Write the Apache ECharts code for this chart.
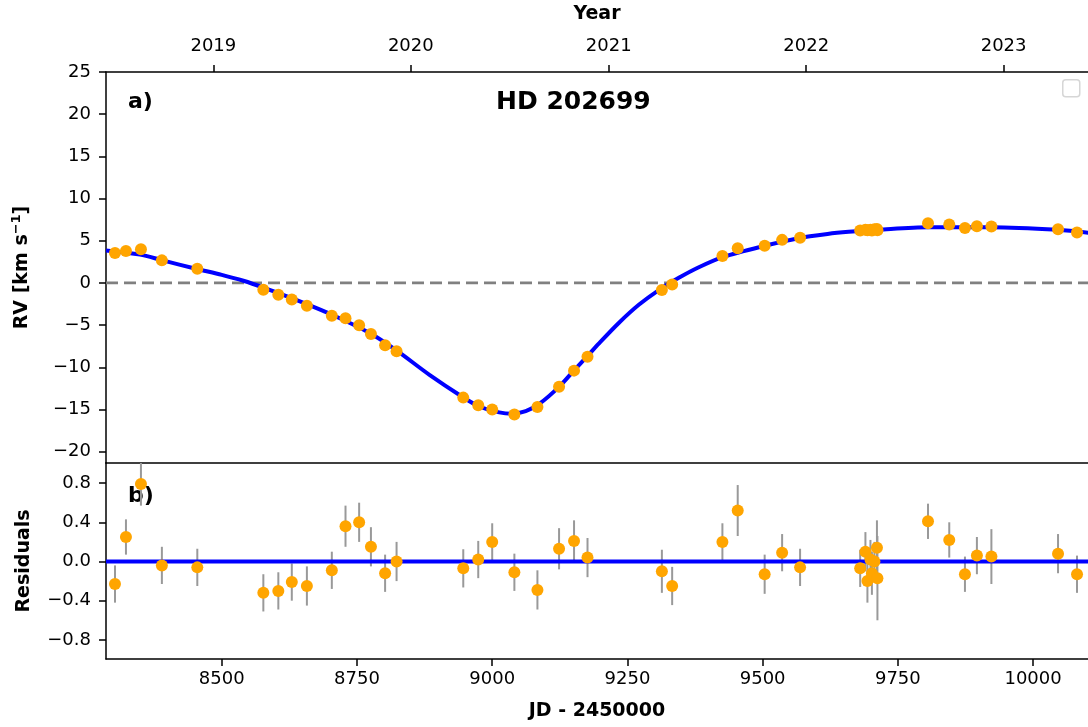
<!DOCTYPE html>
<html><head><meta charset="utf-8">
<script src="https://cdn.jsdelivr.net/npm/echarts@6/dist/echarts.min.js"></script>
<style>html,body{margin:0;padding:0;background:#fff}#c{width:1088px;height:727px}</style>
</head><body><div id="c"></div>
<script>
// ---- data (JD - 2450000) ----
const jd = [8302.6, 8322.9, 8350.6, 8389.3, 8454.8, 8576.9, 8604.6, 8629.5, 8657.4, 8703.5, 8728.8, 8754.0, 8775.8, 8802.0, 8823.2,
  8946.5, 8974.2, 9000.0, 9041.0, 9083.6, 9123.6, 9151.3, 9176.2,
  9313.7, 9332.7, 9425.6, 9453.9, 9503.7, 9536.0, 9569.2,
  9680.3, 9690.0, 9693.7, 9699.3, 9702.0, 9706.6, 9711.3, 9712.2,
  9805.7, 9845.0, 9874.0, 9896.1, 9922.9, 10046.1, 10081.2];
const rv = [3.53, 3.77, 4.00, 2.67, 1.69, -0.82, -1.41, -1.96, -2.71, -3.89, -4.20, -5.03, -6.05, -7.38, -8.09,
  -13.6, -14.5, -15.0, -15.6, -14.7, -12.3, -10.4, -8.75,
  -0.85, -0.18, 3.18, 4.12, 4.40, 5.10, 5.34,
  6.20, 6.30, 6.25, 6.30, 6.20, 6.35, 6.40, 6.25,
  7.07, 6.91, 6.51, 6.71, 6.68, 6.36, 5.97];
const res = [-0.23, 0.25, 0.79, -0.04, -0.06, -0.32, -0.30, -0.21, -0.25, -0.09, 0.36, 0.40, 0.15, -0.12, 0.00,
  -0.07, 0.02, 0.20, -0.11, -0.29, 0.13, 0.21, 0.04,
  -0.10, -0.25, 0.20, 0.52, -0.13, 0.09, -0.06,
  -0.07, 0.10, -0.20, 0.02, -0.12, 0.00, 0.14, -0.17,
  0.41, 0.22, -0.13, 0.06, 0.05, 0.08, -0.13];
const err = [0.19, 0.18, 0.22, 0.19, 0.19, 0.19, 0.19, 0.19, 0.20, 0.19, 0.21, 0.20, 0.20, 0.19, 0.20,
  0.195, 0.19, 0.19, 0.19, 0.20, 0.21, 0.21, 0.20,
  0.22, 0.195, 0.19, 0.26, 0.20, 0.19, 0.19,
  0.19, 0.20, 0.22, 0.20, 0.22, 0.20, 0.28, 0.43,
  0.18, 0.18, 0.18, 0.19, 0.28, 0.20, 0.19];
const modelJD = [8286, 8349, 8389, 8454, 8500, 8540, 8577, 8629, 8703, 8775, 8823, 8884, 8946, 8976, 9013, 9037, 9062, 9087,
  9124, 9151, 9175, 9197, 9234, 9271, 9308, 9345, 9382, 9426, 9504, 9566, 9620, 9659, 9714, 9806, 9923, 10046, 10102];
const modelRV = [3.85, 3.35, 2.7, 1.65, 0.95, 0.25, -0.55, -1.8, -3.75, -6.0, -8.0, -10.9, -13.55, -14.65, -15.35, -15.5, -15.2, -14.35,
  -12.3, -10.4, -8.75, -7.2, -4.75, -2.6, -0.85, 0.6, 1.85, 3.05, 4.4, 5.3, 5.8, 6.05, 6.3, 6.6, 6.6, 6.3, 5.95];
const jdTicks = [8500, 8750, 9000, 9250, 9500, 9750, 10000];
const yearTickJD = [8484.5, 8849.5, 9215.5, 9580.5, 9945.5];
const yearLabels = ['2019', '2020', '2021', '2022', '2023'];
const rvTicks = [-20, -15, -10, -5, 0, 5, 10, 15, 20, 25];
const resTicks = [-0.8, -0.4, 0.0, 0.4, 0.8];

// ---- chart ----
const XMIN = 8286, XMAX = 10101.5;
const FONT = 'DejaVu Sans';
const minus = s => String(s).replace('-', '\u2212');
const axisLine = { show: true, onZero: false, lineStyle: { color: '#000', width: 1.5 } };
const tick = vals => ({ show: true, customValues: vals, length: 7, inside: false, lineStyle: { color: '#000', width: 1.5 } });
const lbl = (vals, fmt, margin) => ({ show: true, customValues: vals, formatter: fmt, color: '#000', fontFamily: FONT, fontSize: 18, margin: margin });
const nameStyle = { color: '#000', fontFamily: FONT, fontSize: 19, fontWeight: 'bold' };

const chart = echarts.init(document.getElementById('c'), null, { renderer: 'canvas' });

const errBar = function (params, api) {
  const x = api.value(0), y = api.value(1), e = api.value(2);
  const p1 = api.coord([x, y + e]);
  const p2 = api.coord([x, y - e]);
  return { type: 'line', shape: { x1: p1[0], y1: p1[1], x2: p2[0], y2: p2[1] },
    style: { stroke: '#999999', lineWidth: 2 } };
};

chart.setOption({
  animation: false,
  backgroundColor: '#fff',
  grid: [
    { left: 106, top: 70, width: 984, height: 393 },
    { left: 106, top: 463, width: 984, height: 196 }
  ],
  xAxis: [
    { gridIndex: 0, type: 'value', position: 'bottom', min: XMIN, max: XMAX,
      axisLine: axisLine, axisTick: { show: false }, axisLabel: { show: false }, splitLine: { show: false } },
    { gridIndex: 0, type: 'value', position: 'top', min: XMIN, max: XMAX,
      axisLine: axisLine, axisTick: tick(yearTickJD),
      axisLabel: lbl(yearTickJD, v => yearLabels[yearTickJD.indexOf(v)] || '', 17),
      splitLine: { show: false },
      name: 'Year', nameLocation: 'middle', nameGap: 48, nameTextStyle: nameStyle },
    { gridIndex: 1, type: 'value', position: 'bottom', min: XMIN, max: XMAX,
      axisLine: axisLine, axisTick: tick(jdTicks),
      axisLabel: lbl(jdTicks, v => String(v), 11),
      splitLine: { show: false },
      name: 'JD - 2450000', nameLocation: 'middle', nameGap: 43, nameTextStyle: nameStyle }
  ],
  yAxis: [
    { gridIndex: 0, type: 'value', min: -21.35, max: 25,
      axisLine: axisLine, axisTick: tick(rvTicks),
      axisLabel: lbl(rvTicks, v => minus(v), 15),
      splitLine: { show: false },
      name: '{b|RV [km s}{s|\u22121}{b|]}', nameLocation: 'middle', nameRotate: 90, nameGap: 72,
      nameTextStyle: { rich: {
        b: { color: '#000', fontFamily: FONT, fontSize: 19, fontWeight: 'bold', lineHeight: 24 },
        s: { color: '#000', fontFamily: FONT, fontSize: 13, fontWeight: 'bold', lineHeight: 24, verticalAlign: 'top', padding: [0, 0, 10, 0] }
      } } },
    { gridIndex: 1, type: 'value', min: -0.995, max: 1.005,
      axisLine: axisLine, axisTick: tick(resTicks),
      axisLabel: lbl(resTicks, v => minus(v.toFixed(1)), 15),
      splitLine: { show: false },
      name: 'Residuals', nameLocation: 'middle', nameRotate: 90, nameGap: 72, nameTextStyle: nameStyle }
  ],
  series: [
    { type: 'line', xAxisIndex: 0, yAxisIndex: 0, data: [[XMIN, 0], [XMAX, 0]],
      showSymbol: false, symbol: 'none', silent: true,
      lineStyle: { color: '#808080', type: [12, 6], width: 2.7 }, z: 2 },
    { type: 'line', xAxisIndex: 0, yAxisIndex: 0, data: modelJD.map((x, i) => [x, modelRV[i]]),
      smooth: 0.3, showSymbol: false, symbol: 'none',
      lineStyle: { color: '#0000ff', width: 4 }, z: 3 },
    { type: 'scatter', xAxisIndex: 0, yAxisIndex: 0, data: jd.map((x, i) => [x, rv[i]]),
      symbol: 'circle', symbolSize: 12, itemStyle: { color: '#ffa500', opacity: 1 }, z: 5 },
    { type: 'custom', xAxisIndex: 2, yAxisIndex: 1, data: jd.map((x, i) => [x, res[i], err[i]]),
      renderItem: errBar, clip: true, z: 2 },
    { type: 'line', xAxisIndex: 2, yAxisIndex: 1, data: [[XMIN, 0], [XMAX, 0]],
      showSymbol: false, symbol: 'none', lineStyle: { color: '#0000ff', width: 4 }, z: 3 },
    { type: 'scatter', xAxisIndex: 2, yAxisIndex: 1, data: jd.map((x, i) => [x, res[i]]),
      symbol: 'circle', symbolSize: 12, itemStyle: { color: '#ffa500', opacity: 1 }, z: 5 }
  ],
  graphic: [
    { type: 'text', left: 128, top: 91, style: { text: 'a)', font: 'bold 22px "DejaVu Sans"', fill: '#000' } },
    { type: 'text', left: 128, top: 485, style: { text: 'b)', font: 'bold 22px "DejaVu Sans"', fill: '#000' } },
    { type: 'text', left: 496, top: 90, style: { text: 'HD 202699', font: 'bold 25px "DejaVu Sans"', fill: '#000' } },
    { type: 'rect', left: 1062, top: 79, shape: { width: 17, height: 17, r: 3 },
      style: { fill: '#fff', stroke: '#d6d6d6', lineWidth: 1.5 } }
  ]
});
</script>
</body></html>
